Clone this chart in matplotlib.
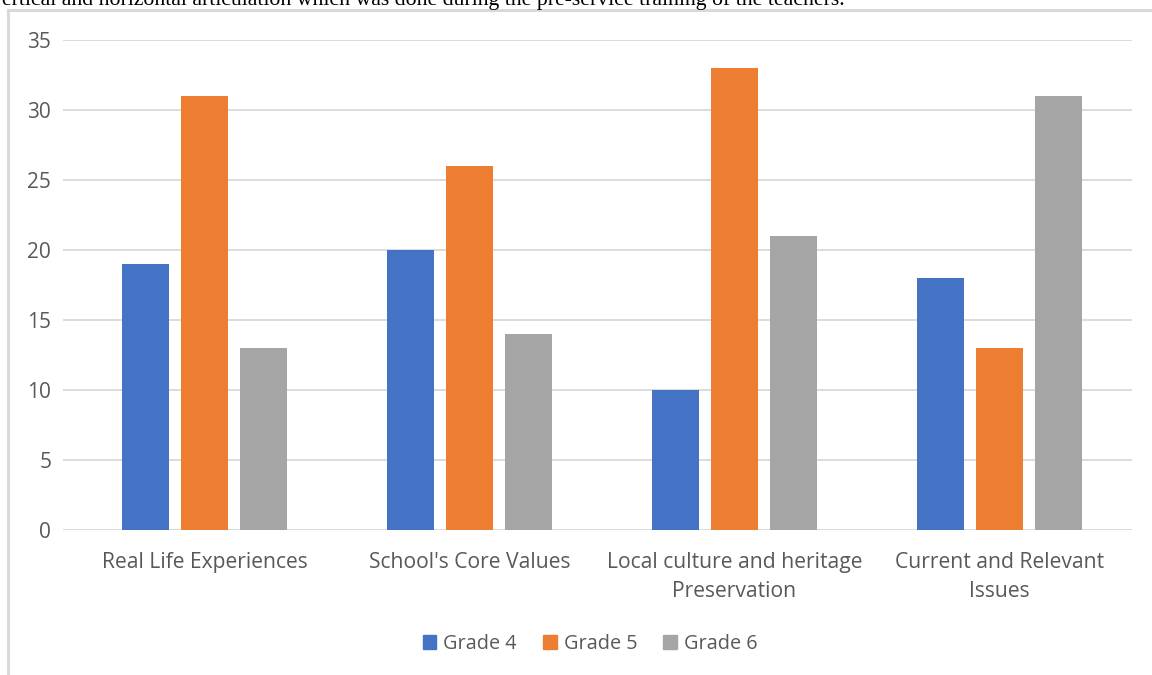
import matplotlib
matplotlib.use("Agg")
import matplotlib.pyplot as plt
import numpy as np
from matplotlib.lines import Line2D

categories = ["Real Life Experiences", "School's Core Values",
              "Local culture and heritage\nPreservation", "Current and Relevant\nIssues"]
series_names = ["Grade 4", "Grade 5", "Grade 6"]
grade4 = [19, 20, 10, 18]
grade5 = [31, 26, 33, 13]
grade6 = [13, 14, 21, 31]
colors = ["#4472C4", "#ED7D31", "#A5A5A5"]
yticks = [0, 5, 10, 15, 20, 25, 30, 35]

W, H = 1152, 675
fig = plt.figure(figsize=(W / 100, H / 100), dpi=100)
fig.patch.set_facecolor("white")

font = ["Open Sans", "DejaVu Sans"]
gray_text = "#595959"

ax = fig.add_axes([63 / W, 1 - 530 / H, (1132 - 63) / W, (530 - 40) / H])
x = np.arange(len(categories))
width = 0.177
offsets = [-0.2226, 0.0, 0.2226]
for vals, off, col, name in zip([grade4, grade5, grade6], offsets, colors, series_names):
    ax.bar(x + off, vals, width=width, color=col, label=name, zorder=3)

ax.set_xlim(-0.534, len(categories) - 0.5)
ax.set_ylim(0, 35)
ax.set_yticks(yticks)
ax.set_yticklabels([str(t) for t in yticks], fontsize=15, color=gray_text, family=font)
ax.set_xticks(x)
ax.set_xticklabels(categories, fontsize=15.2, color=gray_text, family=font, linespacing=1.5)
ax.tick_params(axis="both", length=0)
ax.tick_params(axis="y", pad=8.5)
ax.tick_params(axis="x", pad=16)
ax.grid(axis="y", color="#D9D9D9", linewidth=1.3, zorder=0)
for s in ax.spines.values():
    s.set_visible(False)

handles = [plt.Rectangle((0, 0), 1, 1, color=c) for c in colors]
leg = fig.legend(handles, series_names, loc="center", bbox_to_anchor=(590 / W, 1 - 644 / H),
                 ncol=3, frameon=False, handlelength=0.7, handleheight=0.7,
                 handletextpad=0.35, columnspacing=1.3, prop={"family": font, "size": 14.3})
for t in leg.get_texts():
    t.set_color(gray_text)

# chart frame (top and left edges)
fig.add_artist(Line2D([8 / W, 1], [1 - 10 / H, 1 - 10 / H], transform=fig.transFigure,
                      color="#D9D9D9", linewidth=2.2))
fig.add_artist(Line2D([8 / W, 8 / W], [0, 1 - 10 / H], transform=fig.transFigure,
                      color="#D9D9D9", linewidth=2.2))

# surrounding document text
fig.text(-9 / W, 1 - 5.5 / H,
         "vertical and horizontal articulation which was done during the pre-service training of the teachers.",
         fontsize=15.7, family="Liberation Serif", color="black", va="baseline", ha="left")

fig.savefig("out.png", dpi=100, facecolor="white")
